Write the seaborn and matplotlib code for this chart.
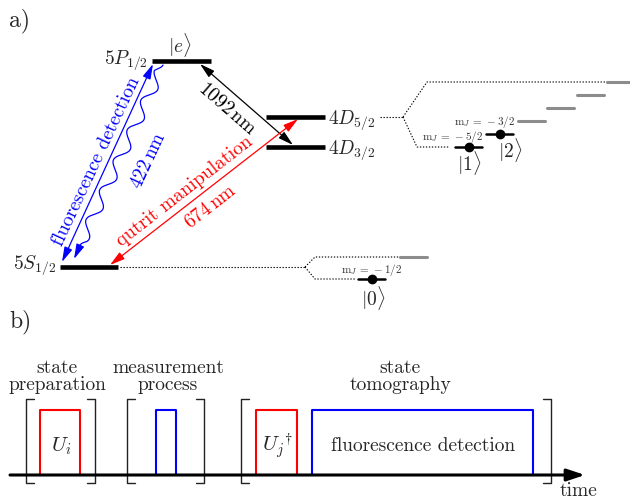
import matplotlib
matplotlib.use("Agg")
import matplotlib.pyplot as plt
import numpy as np
import seaborn as sns

# --- niveles principales (x inicio, x fin, y) en pixeles de la figura
level_labels = [r"$5P_{1/2}$", r"$4D_{5/2}$", r"$4D_{3/2}$", r"$5S_{1/2}$"]
level_x0 = [152, 266, 266, 60]
level_x1 = [211, 325, 325, 118]
level_y = [62, 118, 148, 268]

# --- subniveles Zeeman de 4D5/2 (mJ = -5/2 ... +5/2)
d52_x = [455, 486, 518, 547, 577, 607]
d52_y = [148, 135, 122, 109, 96, 83]
d52_used = [True, True, False, False, False, False]
d52_names = [r"$|1\rangle$", r"$|2\rangle$"]
d52_mj = [r"$\mathrm{m}_J\,=\,-5/2$", r"$\mathrm{m}_J\,=\,-3/2$"]

# --- subniveles de 5S1/2 (mJ = -1/2, +1/2)
s12_x = [358, 400]
s12_y = [280, 258]
s12_used = [True, False]

# --- secuencia de pulsos
pulse_x0 = [40, 156, 256, 312]
pulse_x1 = [80, 176, 297, 533]
pulse_col = ["#ff0000", "#0000ff", "#ff0000", "#0000ff"]
pulse_txt = [r"$U_i$", "", r"$U_j{}^{\dagger}$", "fluorescence detection"]
bracket_l = [26, 127, 241]
bracket_r = [95, 204, 551]
block_top = ["state", "measurement", "state"]
block_bot = ["preparation", "process", "tomography"]
block_cx = [57, 168, 400]

sns.set_theme(style="white")
plt.rcParams["font.family"] = ["cmr10", "DejaVu Serif"]
plt.rcParams["mathtext.fontset"] = "cm"
plt.rcParams["axes.unicode_minus"] = False
plt.rcParams["axes.formatter.use_mathtext"] = True

fig = plt.figure(figsize=(6.3, 5.02), dpi=100)
ax = fig.add_axes([0, 0, 1, 1])
ax.set_xlim(0, 630)
ax.set_ylim(502, 0)
ax.axis("off")

FS = 14
ax.text(19, 21, "a)", fontsize=17, ha="center", va="center")
ax.text(20, 322, "b)", fontsize=17, ha="center", va="center")

# niveles
ax.hlines(level_y, level_x0, level_x1, color="black", lw=3.3)
ax.text(148, 60, level_labels[0], fontsize=FS, ha="right", va="center")
ax.text(328, 120, level_labels[1], fontsize=FS, ha="left", va="center")
ax.text(328, 150, level_labels[2], fontsize=FS, ha="left", va="center")
ax.text(56, 265, level_labels[3], fontsize=FS, ha="right", va="center")
ax.text(180, 45, r"$|e\rangle$", fontsize=FS, ha="center", va="center")

dot = dict(color="black", lw=0.8, ls=(0, (1.2, 1.5)))

# 4D5/2 zeeman
ax.plot([380, 403], [118, 118], **dot)
ax.plot([403, 427, d52_x[-1]], [118, d52_y[-1], d52_y[-1]], **dot)
ax.plot([403, 417, d52_x[0] - 6], [118, d52_y[0], d52_y[0]], **dot)
for x, y, used in zip(d52_x, d52_y, d52_used):
    if used:
        ax.plot([x, x + 27], [y, y], color="black", lw=1.8)
        ax.plot(x + 14, y, "o", color="black", ms=6)
    else:
        ax.plot([x, x + 27], [y, y], color="#8c8c8c", lw=2.2)
ax.text(469, 163, d52_names[0], fontsize=FS, ha="center", va="center")
ax.text(510, 150, d52_names[1], fontsize=FS, ha="center", va="center")
ax.text(483, 137, d52_mj[0], fontsize=8, ha="right", va="center", color="#333333")
ax.text(515, 122, d52_mj[1], fontsize=8, ha="right", va="center", color="#333333")

# 5S1/2 zeeman
ax.plot([120, 305], [268, 268], **dot)
ax.plot([305, 315, s12_x[1]], [268, s12_y[1], s12_y[1]], **dot)
ax.plot([305, 315, s12_x[0] - 2], [268, s12_y[0], s12_y[0]], **dot)
for x, y, used in zip(s12_x, s12_y, s12_used):
    if used:
        ax.plot([x, x + 27], [y, y], color="black", lw=1.8)
        ax.plot(x + 14, y, "o", color="black", ms=6)
    else:
        ax.plot([x, x + 27], [y, y], color="#8c8c8c", lw=2.2)
ax.text(372, 270, r"$\mathrm{m}_J\,=\,-1/2$", fontsize=8, ha="center", va="center", color="#333333")
ax.text(373, 298, r"$|0\rangle$", fontsize=FS, ha="center", va="center")

# transiciones
HEAD = "head_length=0.9,head_width=0.25"


def dbl(p0, p1, col):
    ax.annotate("", xy=p1, xytext=p0,
                arrowprops=dict(arrowstyle="<|-|>," + HEAD,
                                color=col, lw=0.9, shrinkA=0, shrinkB=0, mutation_scale=10))


dbl((62, 263), (153, 65), "#0000ff")
dbl((200, 65), (293, 146), "black")
dbl((110, 266), (298, 120), "#ff0000")

# linea ondulada 422 nm
p0 = np.array([163.0, 66.0])
p1 = np.array([74.0, 260.0])
t = np.linspace(0, 0.94, 400)
d = p1 - p0
n = np.array([-d[1], d[0]]) / np.hypot(*d)
env = np.clip(t / 0.04, 0, 1) * np.clip((0.94 - t) / 0.04, 0, 1)
wave = p0 + np.outer(t, d) + np.outer(5.5 * env * np.sin(2 * np.pi * 6.5 * t), n)
ax.plot(wave[:, 0], wave[:, 1], color="#0000ff", lw=0.9)
ax.annotate("", xy=p1, xytext=wave[-1],
            arrowprops=dict(arrowstyle="-|>," + HEAD,
                            color="#0000ff", lw=0.9, shrinkA=0, shrinkB=0, mutation_scale=10))

ax.text(96, 161, "fluorescence detection", fontsize=FS, color="#0000ff",
        rotation=65, ha="center", va="center", rotation_mode="anchor")
ax.text(148, 161, r"422$\,$nm", fontsize=FS, color="#0000ff",
        rotation=65, ha="center", va="center", rotation_mode="anchor")
ax.text(227, 109, r"1092$\,$nm", fontsize=FS, color="black",
        rotation=-41, ha="center", va="center", rotation_mode="anchor")
ax.text(185, 191, "qutrit manipulation", fontsize=FS, color="#ff0000",
        rotation=38, ha="center", va="center", rotation_mode="anchor")
ax.text(211, 207, r"674$\,$nm", fontsize=FS, color="#ff0000",
        rotation=38, ha="center", va="center", rotation_mode="anchor")

# --- panel b
AXY, TOP = 476, 411
for x0, x1, c, s in zip(pulse_x0, pulse_x1, pulse_col, pulse_txt):
    ax.plot([x0, x0, x1, x1], [AXY, TOP, TOP, AXY], color=c, lw=1.5)
    if s:
        ax.text((x0 + x1) / 2 + 1, 446, s, fontsize=FS + 1 if s.startswith("$") else FS,
                ha="center", va="center")

for xl, xr in zip(bracket_l, bracket_r):
    ax.plot([xl + 8, xl, xl, xl + 8], [400, 400, 484, 484], color="#222222", lw=1.0)
    ax.plot([xr - 8, xr, xr, xr - 8], [400, 400, 484, 484], color="#222222", lw=1.0)

for cx, a, b in zip(block_cx, block_top, block_bot):
    ax.text(cx, 368, a, fontsize=FS, ha="center", va="center")
    ax.text(cx, 385, b, fontsize=FS, ha="center", va="center")

ax.annotate("", xy=(585, AXY), xytext=(10, AXY),
            arrowprops=dict(arrowstyle="-|>,head_length=0.9,head_width=0.3",
                            color="black", lw=2.2, shrinkA=0, shrinkB=0, mutation_scale=12))
ax.text(578, 491, "time", fontsize=FS, ha="center", va="center")

fig.savefig("out.png", dpi=100, facecolor="white")
